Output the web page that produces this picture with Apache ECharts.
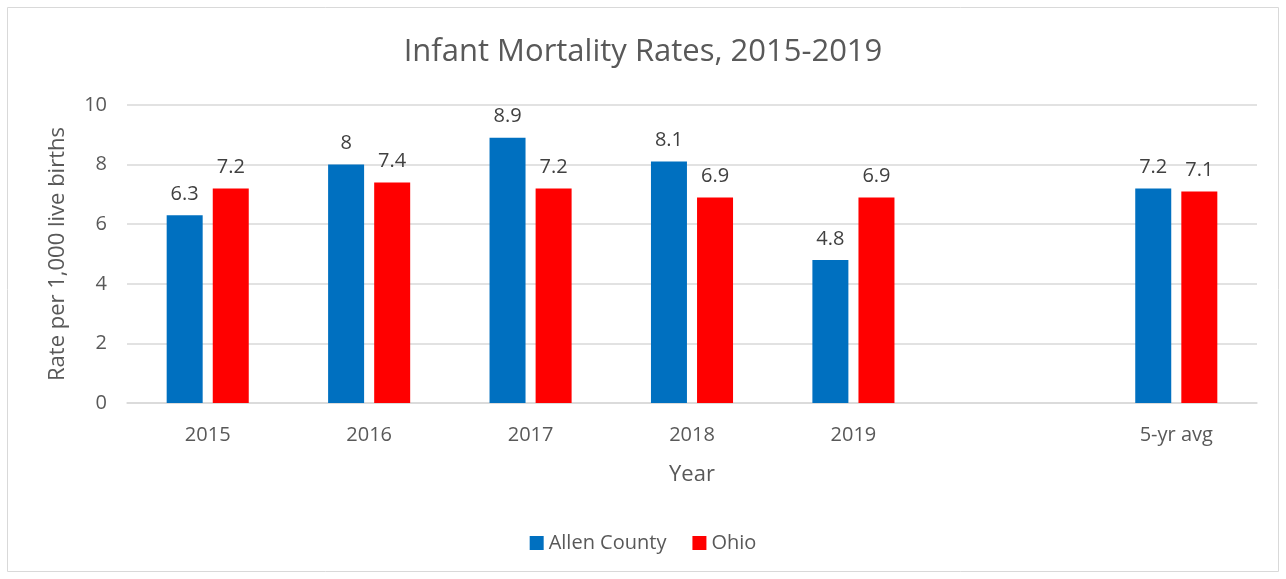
<!DOCTYPE html>
<html>
	<head>
		<meta charset="UTF-8">
		<title>Infant Mortality Rates</title>
		<script src="https://cdn.jsdelivr.net/npm/echarts@6/dist/echarts.min.js"></script>
		<style>
			html, body { margin: 0; padding: 0; background: #fff; }
		</style>
	</head>
	<body>
		<div id="chart" style="width: 1286px; height: 579px;"></div>
		<script type="text/javascript">
			// data
			var years = ['2015', '2016', '2017', '2018', '2019', '', '5-yr avg'];
			var allenCounty = [6.3, 8, 8.9, 8.1, 4.8, '-', 7.2];
			var ohio = [7.2, 7.4, 7.2, 6.9, 6.9, '-', 7.1];
			var yTicks = { min: 0, max: 10, interval: 2 };

			var font = '"Open Sans", "Noto Sans", sans-serif';
			var labelStyle = {
				show: true,
				position: 'top',
				distance: 11,
				color: '#404040',
				fontSize: 20,
				fontFamily: font
			};

			var myChart = echarts.init(document.getElementById('chart'));
			myChart.setOption({
				animation: false,
				textStyle: { fontFamily: font },
				graphic: [{
					type: 'rect',
					shape: { x: 7.5, y: 7.5, width: 1271, height: 564 },
					style: { fill: 'none', stroke: '#d9d9d9', lineWidth: 1 },
					silent: true
				}],
				title: {
					text: 'Infant Mortality Rates, 2015-2019',
					left: 'center',
					top: 32,
					textStyle: { color: '#595959', fontSize: 31, fontWeight: 'normal', fontFamily: font }
				},
				legend: {
					bottom: 21,
					left: 'center',
					itemWidth: 14,
					itemHeight: 14,
					itemGap: 26,
					icon: 'rect',
					textStyle: { color: '#595959', fontSize: 20, fontFamily: font },
					data: ['Allen County', 'Ohio']
				},
				grid: { left: 127, right: 29, top: 105, bottom: 176 },
				xAxis: {
					type: 'category',
					data: years,
					name: 'Year',
					nameLocation: 'middle',
					nameGap: 61,
					nameTextStyle: { color: '#595959', fontSize: 22, fontFamily: font },
					axisLine: { lineStyle: { color: '#d9d9d9', width: 1.5 } },
					axisTick: { show: false },
					axisLabel: { color: '#595959', fontSize: 20, margin: 22, fontFamily: font }
				},
				yAxis: {
					type: 'value',
					min: yTicks.min,
					max: yTicks.max,
					interval: yTicks.interval,
					name: 'Rate per 1,000 live births',
					nameLocation: 'middle',
					nameGap: 58,
					nameTextStyle: { color: '#595959', fontSize: 22, fontFamily: font },
					axisLine: { show: false },
					axisTick: { show: false },
					axisLabel: { color: '#595959', fontSize: 20, margin: 20, fontFamily: font },
					splitLine: { lineStyle: { color: '#d9d9d9', width: 1.5 } }
				},
				series: [{
					name: 'Allen County',
					type: 'bar',
					data: allenCounty,
					barWidth: 36,
					barGap: '28%',
					itemStyle: { color: '#0070C0' },
					label: labelStyle
				}, {
					name: 'Ohio',
					type: 'bar',
					data: ohio,
					barWidth: 36,
					itemStyle: { color: '#FF0000' },
					label: labelStyle
				}]
			});
		</script>
	</body>
</html>
